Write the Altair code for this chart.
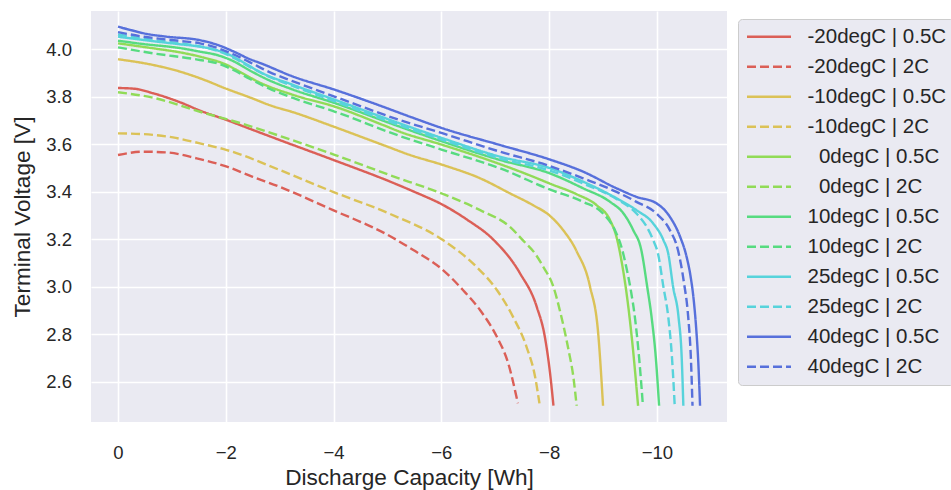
import altair as alt
import pandas as pd

# ---- series labels (legend order) ----
ZW = "\u200b\u00a0\u00a0"  # keeps the two leading spaces of the 0degC labels
LABELS = [
    "-20degC | 0.5C", "-20degC | 2C",
    "-10degC | 0.5C", "-10degC | 2C",
    ZW + "0degC | 0.5C", ZW + "0degC | 2C",
    "10degC | 0.5C", "10degC | 2C",
    "25degC | 0.5C", "25degC | 2C",
    "40degC | 0.5C", "40degC | 2C",
]
COLORS = ["#db5f57", "#db5f57", "#dbc257", "#dbc257", "#91db57", "#91db57",
          "#57db80", "#57db80", "#57d3db", "#57d3db", "#5770db", "#5770db"]

# ---- data: discharge capacity [Wh] and terminal voltage [V] ----
M20_05_X = [0, -0.3, -0.65, -1.15, -1.52, -2.02, -2.45, -3.0, -4.0, -5.05, -5.5, -6.03, -6.49, -6.96, -7.46, -7.77, -7.92, -8.01, -8.08]
M20_05_Y = [3.837, 3.834, 3.815, 3.777, 3.742, 3.702, 3.665, 3.618, 3.534, 3.443, 3.40, 3.345, 3.281, 3.20, 3.057, 2.916, 2.79, 2.65, 2.5]

M20_2_X = [0, -0.47, -0.9, -1.46, -2.02, -2.5, -3.0, -3.99, -4.98, -5.48, -6.03, -6.4, -6.72, -7.03, -7.24, -7.42]
M20_2_Y = [3.555, 3.569, 3.566, 3.541, 3.506, 3.463, 3.421, 3.323, 3.222, 3.155, 3.071, 2.987, 2.902, 2.79, 2.679, 2.51]

M10_05_X = [0, -0.65, -1.15, -1.52, -2.02, -2.45, -2.85, -3.25, -4.03, -4.92, -5.42, -6.03, -6.72, -7.27, -7.7, -8.01, -8.26, -8.51, -8.76, -8.91, -9.0]
M10_05_Y = [3.958, 3.934, 3.906, 3.878, 3.833, 3.797, 3.762, 3.735, 3.672, 3.597, 3.555, 3.513, 3.457, 3.394, 3.344, 3.30, 3.239, 3.15, 3.0, 2.804, 2.5]

M10_2_X = [0, -0.47, -1.02, -1.52, -2.02, -3.0, -3.99, -5.05, -6.03, -6.65, -7.03, -7.33, -7.58, -7.74, -7.82]
M10_2_Y = [3.646, 3.643, 3.629, 3.604, 3.576, 3.492, 3.40, 3.307, 3.197, 3.085, 2.987, 2.874, 2.748, 2.621, 2.51]

P0_05_X = [0, -0.65, -1.15, -1.52, -2.02, -2.3, -2.63, -3.25, -4.03, -4.92, -5.23, -6.03, -6.96, -7.7, -8.01, -8.51, -8.88, -9.13, -9.25, -9.35, -9.45, -9.55, -9.65]
P0_05_Y = [4.025, 4.004, 3.987, 3.969, 3.934, 3.90, 3.86, 3.808, 3.758, 3.681, 3.653, 3.597, 3.527, 3.464, 3.435, 3.39, 3.344, 3.281, 3.21, 3.10, 2.95, 2.75, 2.5]

P0_2_X = [0, -0.65, -1.52, -2.39, -3.2, -4.03, -5.05, -6.03, -6.72, -7.27, -7.51, -7.74, -7.89, -8.08, -8.2, -8.36, -8.45, -8.51]
P0_2_Y = [3.819, 3.796, 3.737, 3.681, 3.62, 3.555, 3.47, 3.391, 3.323, 3.253, 3.197, 3.14, 3.085, 3.0, 2.9, 2.734, 2.62, 2.5]

P10_05_X = [0, -0.47, -1.15, -1.52, -1.85, -2.14, -2.45, -2.8, -3.25, -4.03, -5.23, -6.03, -7.09, -8.01, -8.63, -9.13, -9.38, -9.56, -9.71, -9.82, -9.9, -9.98, -10.04]
P10_05_Y = [4.036, 4.022, 4.005, 3.99, 3.975, 3.95, 3.91, 3.87, 3.83, 3.773, 3.674, 3.611, 3.534, 3.478, 3.415, 3.358, 3.309, 3.239, 3.155, 3.0, 2.874, 2.7, 2.5]

P10_2_X = [0, -0.65, -1.52, -1.85, -2.14, -2.45, -2.8, -3.25, -4.03, -5.23, -6.03, -7.09, -8.01, -8.63, -9.0, -9.22, -9.34, -9.43, -9.52, -9.59, -9.67, -9.74]
P10_2_Y = [4.008, 3.983, 3.955, 3.94, 3.913, 3.875, 3.835, 3.795, 3.737, 3.635, 3.576, 3.499, 3.41, 3.358, 3.309, 3.239, 3.169, 3.085, 2.98, 2.874, 2.7, 2.5]

P25_05_X = [0, -0.47, -1.15, -1.52, -1.85, -2.14, -2.4, -2.63, -3.25, -4.03, -5.23, -6.03, -7.09, -8.01, -8.63, -9.25, -9.62, -9.93, -10.12, -10.21, -10.3, -10.4, -10.46, -10.49]
P25_05_Y = [4.053, 4.039, 4.021, 4.011, 3.995, 3.969, 3.935, 3.905, 3.85, 3.787, 3.688, 3.625, 3.548, 3.50, 3.443, 3.373, 3.323, 3.267, 3.197, 3.14, 3.0, 2.874, 2.7, 2.5]

P25_2_X = [0, -0.47, -1.15, -1.52, -1.85, -2.14, -2.45, -2.8, -3.25, -4.03, -5.23, -6.03, -7.09, -8.01, -8.63, -9.25, -9.62, -9.81, -9.93, -10.02, -10.12, -10.21, -10.28, -10.33]
P25_2_Y = [4.062, 4.045, 4.025, 4.012, 3.993, 3.965, 3.925, 3.885, 3.845, 3.78, 3.68, 3.618, 3.54, 3.49, 3.435, 3.37, 3.309, 3.253, 3.197, 3.14, 3.0, 2.874, 2.7, 2.5]

P40_05_X = [0, -0.25, -0.5, -0.9, -1.5, -1.85, -2.15, -2.45, -2.65, -3.25, -4.03, -4.92, -5.42, -6.03, -7.09, -8.0, -8.63, -9.25, -9.62, -9.99, -10.24, -10.43, -10.55, -10.62, -10.68, -10.73, -10.77, -10.8]
P40_05_Y = [4.095, 4.08, 4.066, 4.053, 4.039, 4.018, 3.99, 3.958, 3.941, 3.885, 3.829, 3.758, 3.716, 3.667, 3.597, 3.537, 3.485, 3.415, 3.379, 3.352, 3.295, 3.211, 3.127, 3.05, 2.95, 2.82, 2.67, 2.5]

P40_2_X = [0, -0.47, -1.15, -1.52, -1.85, -2.14, -2.45, -2.8, -3.25, -4.03, -5.23, -6.03, -7.09, -8.01, -8.63, -9.25, -9.62, -9.99, -10.24, -10.39, -10.5, -10.58, -10.63, -10.66]
P40_2_Y = [4.072, 4.053, 4.035, 4.025, 4.005, 3.979, 3.945, 3.905, 3.865, 3.80, 3.702, 3.646, 3.569, 3.509, 3.457, 3.40, 3.358, 3.309, 3.239, 3.155, 3.02, 2.874, 2.7, 2.5]

SERIES = [
    (M20_05_X, M20_05_Y), (M20_2_X, M20_2_Y),
    (M10_05_X, M10_05_Y), (M10_2_X, M10_2_Y),
    (P0_05_X, P0_05_Y), (P0_2_X, P0_2_Y),
    (P10_05_X, P10_05_Y), (P10_2_X, P10_2_Y),
    (P25_05_X, P25_05_Y), (P25_2_X, P25_2_Y),
    (P40_05_X, P40_05_Y), (P40_2_X, P40_2_Y),
]

rows = []
for label, (xs, ys) in zip(LABELS, SERIES):
    for x, y in zip(xs, ys):
        rows.append({"series": label, "cap": x, "volt": y})
df = pd.DataFrame(rows)

DASHES = [[1, 0] if i % 2 == 0 else [9, 4] for i in range(len(LABELS))]

FONT = "Liberation Sans"
TXT = "#262626"

legend = alt.Legend(
    title=None, orient="none", legendX=647, legendY=8,
    fillColor="#EAEAF2", strokeColor="#cccccc", cornerRadius=4, padding=7.5,
    symbolType="stroke", symbolSize=1936, symbolStrokeWidth=2.4,
    labelFont=FONT, labelFontSize=20.5, labelColor=TXT, labelOffset=15,
    labelLimit=300, rowPadding=9.0, clipHeight=20.5,
)

chart = alt.Chart(df).mark_line(strokeWidth=2.4, interpolate="monotone").encode(
    x=alt.X("cap:Q",
            scale=alt.Scale(domain=[-11.30, 0.501], reverse=True, nice=False, zero=False),
            axis=alt.Axis(values=[0, -2, -4, -6, -8, -10], format="d",
                          title="Discharge Capacity [Wh]",
                          labelPadding=36, labelBaseline="alphabetic",
                          titleY=62, titleBaseline="alphabetic")),
    y=alt.Y("volt:Q",
            scale=alt.Scale(domain=[2.4316, 4.161], nice=False, zero=False),
            axis=alt.Axis(values=[2.6, 2.8, 3.0, 3.2, 3.4, 3.6, 3.8, 4.0], format=".1f",
                          title="Terminal Voltage [V]",
                          labelPadding=19.5,
                          titleX=-62, titleY=205.5, titleAngle=270,
                          titleBaseline="alphabetic", titleAlign="center")),
    color=alt.Color("series:N", scale=alt.Scale(domain=LABELS, range=COLORS),
                    sort=LABELS, legend=legend),
    strokeDash=alt.StrokeDash("series:N", scale=alt.Scale(domain=LABELS, range=DASHES),
                              sort=LABELS, legend=legend),
).properties(
    width=636, height=411,
    autosize=alt.AutoSizeParams(type="none"),
    padding={"left": 91, "top": 11, "right": 224, "bottom": 68},
    background="white",
).configure_view(
    fill="#EAEAF2", stroke=None,
).configure_axis(
    domain=False, ticks=False, tickSize=0,
    grid=True, gridColor="white", gridWidth=1.6,
    labelFont=FONT, labelFontSize=18.5, labelColor=TXT,
    titleFont=FONT, titleFontSize=22.6, titleFontWeight="normal", titleColor=TXT,
)

chart.save("out.html", embed_options={"renderer": "svg", "actions": False})
